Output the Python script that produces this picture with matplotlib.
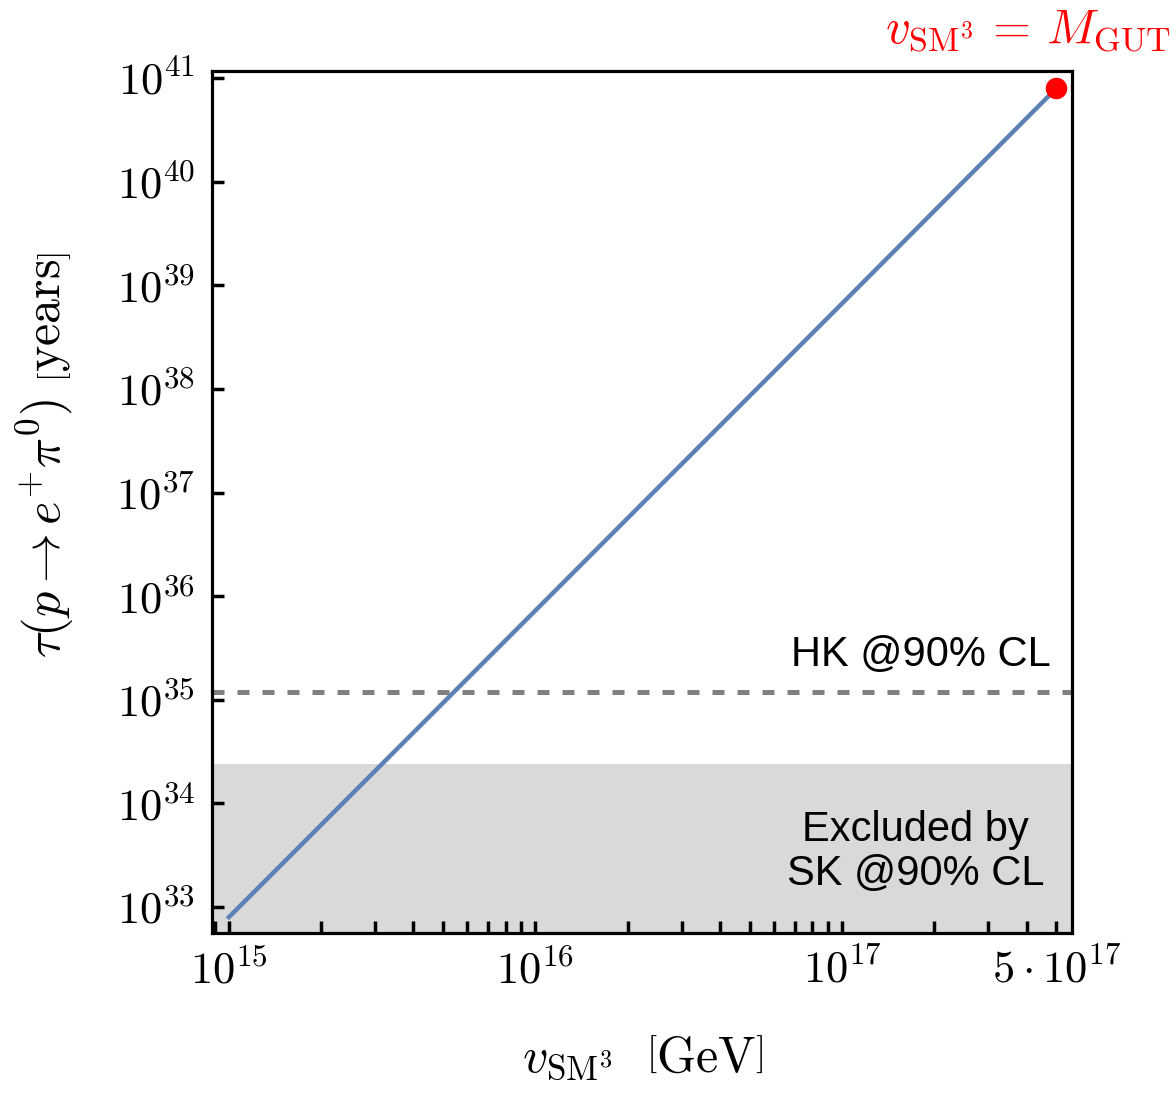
import numpy as np
import matplotlib.pyplot as plt
from matplotlib.ticker import FixedLocator, FixedFormatter, NullFormatter

plt.rcParams['mathtext.fontset'] = 'cm'
plt.rcParams['font.family'] = ['Liberation Sans', 'DejaVu Sans']

# dados
v_sm3 = [1e15, 1e16, 1e17, 5e17]          # GeV
tau_p = [8e32, 7.3e35, 6.7e38, 8e40]      # anos
v_gut = 5e17
tau_gut = 8e40
tau_sk = 2.4e34   # limite SK
tau_hk = 1.2e35   # sensibilidade HK

x_ticks = [1e15, 1e16, 1e17, 5e17]
x_labels = [r'$10^{15}$', r'$10^{16}$', r'$10^{17}$', r'$5\cdot10^{17}$']
y_ticks = [10.0**k for k in range(33, 42)]
y_labels = [r'$10^{%d}$' % k for k in range(33, 42)]

cor_linha = '#5e81b5'

fig = plt.figure(figsize=(11.76, 10.97), dpi=100)
ax = fig.add_axes([0.1803, 0.1495, 0.7313, 0.7858])
ax.set_xscale('log')
ax.set_yscale('log')
xmin, xmax = 10**14.945, 10**17.75
ymin, ymax = 10**32.75, 10**41.07
ax.set_xlim(xmin, xmax)
ax.set_ylim(ymin, ymax)

ax.axhspan(ymin, tau_sk, color='#d9d9d9', lw=0, zorder=0)
ax.axhline(tau_hk, color='#808080', lw=3.6, ls=(0, (2.4, 2.6)), zorder=1)
ax.plot(v_sm3, tau_p, color=cor_linha, lw=3.2, zorder=2)
ax.plot([v_gut], [tau_gut], 'o', color='#ff0000', ms=14.5, zorder=3, clip_on=False)

ax.text(0.975, 0.3225, 'HK @90% CL', transform=ax.transAxes, ha='right', va='center', fontsize=30)
ax.text(0.818, 0.094, 'Excluded by\nSK @90% CL', transform=ax.transAxes, ha='center',
        va='center', fontsize=30, linespacing=1.15)
fig.text(0.874, 1 - 42 / 1097, r'$v_{\mathrm{SM}^3}\,=\,M_{\mathrm{GUT}}$',
         ha='center', va='baseline', fontsize=35, color='#ff0000')

# ticks
ax.xaxis.set_major_locator(FixedLocator(x_ticks))
ax.xaxis.set_major_formatter(FixedFormatter(x_labels))
minors = [m * 10.0**e for e in range(14, 18) for m in range(2, 10)]
minors = [t for t in minors if xmin < t < xmax and t not in x_ticks]
ax.xaxis.set_minor_locator(FixedLocator(minors))
ax.xaxis.set_minor_formatter(NullFormatter())
ax.yaxis.set_major_locator(FixedLocator(y_ticks))
ax.yaxis.set_major_formatter(FixedFormatter(y_labels))
ax.yaxis.set_minor_locator(FixedLocator([]))

ax.tick_params(which='both', direction='in', top=False, right=False, width=2.5,
               length=8.5, labelsize=32, pad=12)
for s in ax.spines.values():
    s.set_linewidth(2.3)

ax.set_xlabel(r'$v_{\mathrm{SM}^3}\ \ \left[\mathrm{GeV}\right]$', fontsize=36, labelpad=30)
ax.set_ylabel(r'$\tau(p\rightarrow e^{+}\pi^{0})\ \left[\mathrm{years}\right]$', fontsize=36)
ax.yaxis.set_label_coords(-0.158, 0.5545)

fig.savefig('out.png', dpi=100)
